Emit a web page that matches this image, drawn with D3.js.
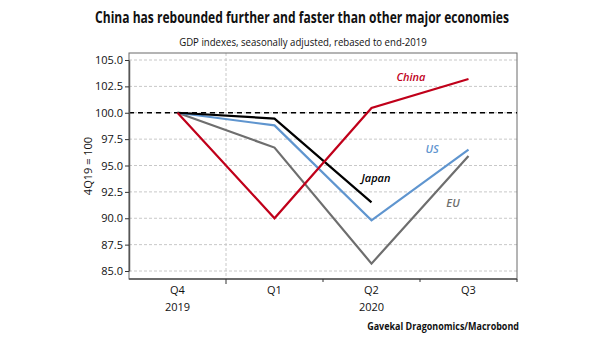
<!DOCTYPE html>
<html>
<head>
<meta charset="utf-8">
<script src="https://cdn.jsdelivr.net/npm/d3@7"></script>
<style>
  body { margin: 0; background: #fff; }
  svg text { font-family: "Open Sans", "Noto Sans", sans-serif; }
</style>
</head>
<body>
<div id="chart"></div>
<script>
// quarters on the x axis
const quarters = ["Q4 2019", "Q1 2020", "Q2 2020", "Q3 2020"];
const quarterLabels = ["Q4", "Q1", "Q2", "Q3"];
const yearLabels = [{ q: "Q4 2019", text: "2019" }, { q: "Q2 2020", text: "2020" }];
const yTicks = [85, 87.5, 90, 92.5, 95, 97.5, 100, 102.5, 105];

// GDP indexes, 4Q19 = 100
const china = [100, 90.0, 100.45, 103.2];
const us = [100, 98.8, 89.8, 96.5];
const japan = [100, 99.45, 91.5];
const eu = [100, 96.7, 85.7, 95.9];

const series = [
  { name: "EU", values: eu, color: "#6e6e6e", label: [453, 204] },
  { name: "US", values: us, color: "#5f95cf", label: [432, 150] },
  { name: "Japan", values: japan, color: "#000000", label: [376, 179] },
  { name: "China", values: china, color: "#c0001a", label: [411, 78] }
];

const W = 605, H = 341;
const plot = { left: 129, right: 517, top: 53, bottom: 279 };

const svg = d3.select("#chart").append("svg")
  .attr("width", W).attr("height", H);

const x = d3.scaleBand().domain(quarters).range([plot.left, plot.right]);
const y = d3.scaleLinear().domain([85, 105]).range([271, 60]);
const cx = q => x(q) + x.bandwidth() / 2;

// gridlines
svg.append("g").selectAll("line").data(yTicks).join("line")
  .attr("x1", plot.left).attr("x2", plot.right)
  .attr("y1", d => y(d)).attr("y2", d => y(d))
  .attr("stroke", "#c8c8c8").attr("stroke-width", 1)
  .attr("stroke-dasharray", "3,2");

// year boundary gridline
svg.append("line")
  .attr("x1", x("Q1 2020")).attr("x2", x("Q1 2020"))
  .attr("y1", plot.top).attr("y2", plot.bottom)
  .attr("stroke", "#c8c8c8").attr("stroke-dasharray", "3,2");

// frame
svg.append("rect")
  .attr("x", plot.left).attr("y", plot.top)
  .attr("width", plot.right - plot.left).attr("height", plot.bottom - plot.top)
  .attr("fill", "none").attr("stroke", "#6a6a6a").attr("stroke-width", 1);

// 100 reference line
svg.append("line")
  .attr("x1", plot.left).attr("x2", plot.right)
  .attr("y1", y(100)).attr("y2", y(100))
  .attr("stroke", "#000").attr("stroke-width", 1.5)
  .attr("stroke-dasharray", "5,4");

// y axis
const yAxis = svg.append("g")
  .attr("transform", `translate(${plot.left},0)`)
  .call(d3.axisLeft(y).tickValues(yTicks).tickFormat(d3.format(".1f")).tickSize(4).tickSizeOuter(0));
yAxis.select(".domain").attr("stroke", "#555").attr("stroke-width", 1.5);
yAxis.selectAll(".tick line").attr("stroke", "#333");
yAxis.selectAll("text").attr("font-size", 11).attr("fill", "#111").attr("x", -6);

// x axis: ticks at quarter boundaries, labels centred on quarters
const xg = svg.append("g");
xg.append("line")
  .attr("x1", plot.left).attr("x2", plot.right)
  .attr("y1", plot.bottom).attr("y2", plot.bottom)
  .attr("stroke", "#555").attr("stroke-width", 1.5);
xg.selectAll(".tk").data(quarters.slice(1).concat(["end"])).join("line")
  .attr("x1", d => d === "end" ? plot.right : x(d))
  .attr("x2", d => d === "end" ? plot.right : x(d))
  .attr("y1", plot.bottom)
  .attr("y2", d => d === "Q1 2020" ? plot.bottom + 5 : plot.bottom + 3)
  .attr("stroke", "#333");
xg.selectAll(".ql").data(quarters).join("text")
  .attr("x", d => cx(d)).attr("y", 294)
  .attr("text-anchor", "middle").attr("font-size", 11).attr("fill", "#111")
  .text((d, i) => quarterLabels[i]);
xg.selectAll(".yl").data(yearLabels).join("text")
  .attr("x", d => cx(d.q)).attr("y", 311)
  .attr("text-anchor", "middle").attr("font-size", 11).attr("fill", "#111")
  .text(d => d.text);

// y axis title
svg.append("text")
  .attr("transform", "translate(92,166) rotate(-90)")
  .attr("text-anchor", "middle").attr("font-size", 11).attr("fill", "#111")
  .text("4Q19 = 100");

// lines
const line = d3.line()
  .x((d, i) => cx(quarters[i]))
  .y(d => y(d));

svg.append("g").selectAll("path").data(series).join("path")
  .attr("d", d => line(d.values))
  .attr("fill", "none")
  .attr("stroke", d => d.color)
  .attr("stroke-width", 2.2);

svg.append("g").selectAll("text").data(series).join("text")
  .attr("x", d => d.label[0]).attr("y", d => d.label[1])
  .attr("text-anchor", "middle").attr("dominant-baseline", "middle")
  .attr("font-size", 11).attr("font-style", "italic").attr("font-weight", 600)
  .attr("fill", d => d.color)
  .text(d => d.name);

// condensed text: squeeze horizontally to the width seen in the reference
function condensed(cxPos, yPos, width, anchor, size, weight, str) {
  const g = svg.append("g");
  const t = g.append("text")
    .attr("font-size", size).attr("font-weight", weight).attr("fill", "#111")
    .attr("text-anchor", anchor).text(str);
  const k = Math.min(1, width / t.node().getComputedTextLength());
  g.attr("transform", `translate(${cxPos},${yPos}) scale(${k},1)`);
}

condensed(302, 23, 414, "middle", 16, 700,
  "China has rebounded further and faster than other major economies");
condensed(303, 46, 248, "middle", 11.5, 400,
  "GDP indexes, seasonally adjusted, rebased to end-2019");
condensed(519, 330, 152, "end", 11, 700, "Gavekal Dragonomics/Macrobond");
</script>
</body>
</html>
